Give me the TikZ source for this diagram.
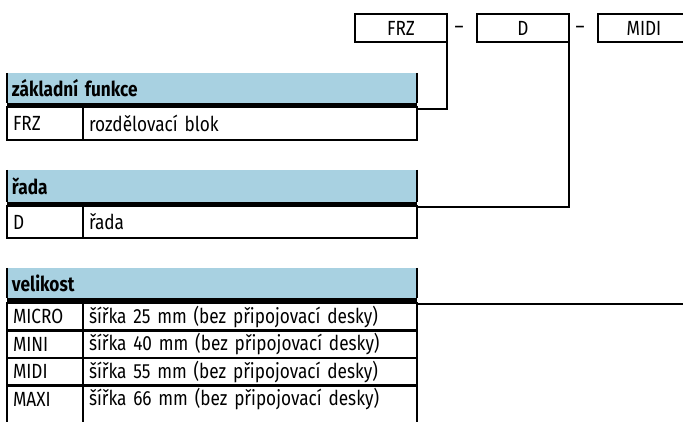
\documentclass[tikz,border=0pt]{standalone}
\usepackage{fontspec}
\setmainfont{Fira Sans}[FakeStretch=0.84]
\definecolor{hdrblue}{RGB}{168,209,225}
\newcommand{\tabfont}{\fontsize{20.5}{23}\selectfont}

\begin{document}
\begin{tikzpicture}[x=1pt, y=1pt, line width=2.2pt,
    every node/.style={outer sep=0pt, inner ysep=0pt, font=\tabfont},
    codebox/.style={draw, minimum width=92pt, minimum height=28pt},
    hdr/.style={fill=hdrblue, anchor=north west, inner xsep=5pt, text width=400pt, align=left, font=\tabfont\bfseries},
    cell/.style={draw, anchor=north west, inner xsep=6pt, align=left},
    opencell/.style={anchor=north west, inner xsep=6pt, align=left},
    kod/.style={text width=64pt},
    popis/.style={text width=322pt},
    thickrule/.style={line width=4.5pt}]
    \useasboundingbox (0,0) rectangle (683,422);
    \clip (0,0) rectangle (683,422);
    \node[codebox] (frz) at (401,394) {FRZ};
    \node[codebox] (d) at (523,394) {D};
    \node[codebox] (midi) at (644,394) {MIDI};
    \node (dasha) at (459,392) {--};
    \node (dashb) at (580,392) {--};
    \node[hdr, minimum height=30pt] (funkce) at (7,349) {základní funkce};
    \draw[thickrule] ([yshift=-2pt]funkce.south west) -- ([yshift=-2pt]funkce.south east);
    \draw (funkce.north west) -- (funkce.south west);
    \draw (funkce.north east) -- (funkce.south east);
    \node[cell, kod, minimum height=33pt] (frzkod) at (7,315) {FRZ};
    \node[cell, popis, minimum height=33pt] (frztext) at (frzkod.north east) {rozdělovací blok};
    \node[hdr, minimum height=32pt] (rada) at (7,252) {řada};
    \draw[thickrule] ([yshift=-2pt]rada.south west) -- ([yshift=-2pt]rada.south east);
    \draw (rada.north west) -- (rada.south west);
    \draw (rada.north east) -- (rada.south east);
    \node[cell, kod, minimum height=32pt] (dkod) at (7,216) {D};
    \node[cell, popis, minimum height=32pt] (radatext) at (dkod.north east) {řada};
    \node[hdr, minimum height=30pt] (velikost) at (7,154) {velikost};
    \draw[thickrule] ([yshift=-2.5pt]velikost.south west) -- ([yshift=-2.5pt]velikost.south east);
    \draw (velikost.north west) -- (velikost.south west);
    \draw (velikost.north east) -- (velikost.south east);
    \node[cell, kod, minimum height=27.5pt] (microkod) at (7,119) {MICRO};
    \node[cell, popis, minimum height=27.5pt] (microtext) at (microkod.north east) {šířka 25 mm (bez připojovací desky)};
    \node[cell, kod, minimum height=27.5pt] (minikod) at (microkod.south west) {MINI};
    \node[cell, popis, minimum height=27.5pt] (minitext) at (minikod.north east) {šířka 40 mm (bez připojovací desky)};
    \node[cell, kod, minimum height=27.5pt] (midikod) at (minikod.south west) {MIDI};
    \node[cell, popis, minimum height=27.5pt] (miditext) at (midikod.north east) {šířka 55 mm (bez připojovací desky)};
    \node[opencell, kod, minimum height=27.5pt] (maxikod) at (midikod.south west) {MAXI};
    \node[opencell, popis, minimum height=27.5pt] (maxitext) at (maxikod.north east) {šířka 66 mm (bez připojovací desky)};
    \draw (maxikod.north west) -- ++(0,-40);
    \draw (maxitext.north west) -- ++(0,-40);
    \draw (maxitext.north east) -- ++(0,-40);
    \draw (frz.south east) |- ([yshift=-2pt]frztext.north east);
    \draw (d.south east) |- ([yshift=-1pt]radatext.north east);
    \draw (midi.south east) |- ([yshift=-1pt]microtext.north east);
\end{tikzpicture}
\end{document}
